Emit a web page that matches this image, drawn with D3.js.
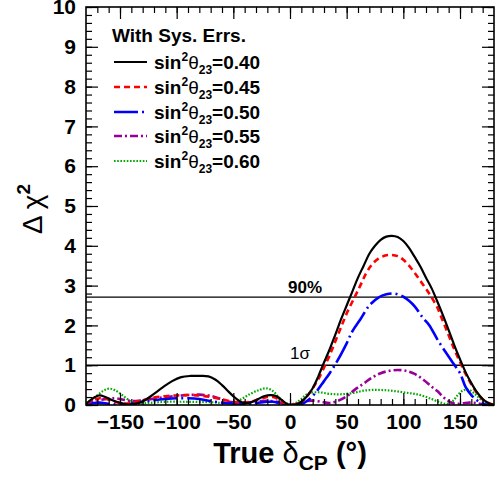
<!DOCTYPE html>
<html>
<head>
<meta charset="utf-8">
<script src="https://cdn.jsdelivr.net/npm/d3@7"></script>
<style>
  html, body { margin: 0; padding: 0; background: #fff; }
  svg { display: block; }
  text { font-family: "Liberation Sans", Arial, Helvetica, sans-serif; }
</style>
</head>
<body>
<svg id="chart" width="496" height="480"></svg>
<script>
// True delta_CP (degrees) and Delta chi^2 for each sin^2(theta_23) hypothesis
const delta040 = [-180,-177,-172,-168,-163,-155,-148,-142,-135,-128,-120,-112,-104,-96,-88,-80,-72,-66,-60,-54,-48,-42,-37,-30,-23,-17,-12,-7,-3,0,5,10,15,20,25,29,35,40,45,50,55,60,65,70,75,80,85,90,95,100,105,110,115,120,125,130,135,140,145,150,155,160,165,170,175,180];
const chi040   = [0.02,0.10,0.20,0.24,0.20,0.10,0.04,0.01,0.04,0.12,0.28,0.45,0.60,0.70,0.73,0.73,0.72,0.64,0.50,0.33,0.17,0.06,0.05,0.12,0.22,0.25,0.22,0.12,0.03,0.00,0.01,0.08,0.22,0.42,0.72,1.00,1.40,1.77,2.15,2.50,2.85,3.20,3.50,3.80,4.00,4.15,4.23,4.25,4.22,4.12,3.95,3.72,3.48,3.20,2.93,2.60,2.25,1.88,1.50,1.15,0.82,0.55,0.32,0.15,0.05,0.00];

const delta045 = [-180,-175,-168,-162,-155,-148,-140,-130,-120,-110,-100,-90,-80,-70,-60,-50,-42,-35,-27,-20,-15,-10,-5,0,5,10,15,20,25,31,35,40,45,50,57,62,67,72,78,85,90,95,100,105,110,115,120,125,130,135,140,145,150,155,160,165,170,175,180];
const chi045   = [0.03,0.10,0.17,0.15,0.08,0.04,0.05,0.12,0.19,0.22,0.24,0.25,0.24,0.20,0.14,0.08,0.06,0.08,0.15,0.20,0.20,0.14,0.05,0.00,0.02,0.08,0.22,0.42,0.65,1.00,1.25,1.60,1.95,2.30,2.71,3.00,3.30,3.52,3.68,3.76,3.77,3.74,3.65,3.50,3.32,3.12,2.92,2.70,2.45,2.10,1.75,1.40,1.08,0.78,0.52,0.30,0.14,0.05,0.01];

const delta050 = [-180,-175,-168,-160,-150,-140,-130,-120,-110,-100,-90,-80,-70,-60,-50,-40,-30,-20,-15,-10,-5,0,10,15,22,30,35,42,50,55,62,70,78,85,92,100,105,110,117,123,130,138,144,150,155,160,165,170,175,180];
const chi050   = [0.00,0.04,0.06,0.03,0.01,0.03,0.08,0.12,0.15,0.17,0.17,0.15,0.10,0.06,0.04,0.03,0.05,0.08,0.08,0.05,0.02,0.00,0.02,0.10,0.29,0.60,0.80,1.12,1.55,1.85,2.15,2.50,2.70,2.78,2.80,2.72,2.62,2.48,2.20,2.00,1.65,1.30,1.05,0.80,0.45,0.25,0.12,0.04,0.00,0.00];

const delta055 = [-180,-175,-165,-155,-148,-140,-130,-120,-110,-100,-90,-80,-70,-60,-55,-45,-35,-25,-17,-10,-5,0,5,10,15,20,28,35,42,50,57,65,73,80,88,95,102,110,118,125,130,136,141,146,152,158,164,170,176,180];
const chi055   = [0.02,0.08,0.14,0.17,0.14,0.10,0.12,0.16,0.20,0.23,0.25,0.26,0.23,0.14,0.09,0.06,0.07,0.10,0.10,0.07,0.03,0.01,0.02,0.06,0.10,0.11,0.08,0.05,0.10,0.22,0.38,0.54,0.70,0.80,0.86,0.88,0.86,0.78,0.63,0.46,0.35,0.18,0.08,0.03,0.04,0.06,0.05,0.02,0.00,0.00];

const delta060 = [-180,-172,-165,-160,-155,-148,-140,-135,-125,-110,-90,-70,-55,-45,-35,-27,-21,-15,-10,-5,0,5,10,16,25,35,45,55,65,75,85,95,105,115,125,132,138,143,148,153,158,163,168,173,180];
const chi060   = [0.05,0.20,0.35,0.41,0.38,0.25,0.08,0.03,0.05,0.08,0.08,0.07,0.05,0.12,0.28,0.38,0.42,0.35,0.20,0.07,0.02,0.05,0.15,0.29,0.32,0.28,0.27,0.30,0.36,0.38,0.37,0.34,0.30,0.25,0.15,0.07,0.03,0.08,0.25,0.37,0.38,0.28,0.15,0.05,0.00];

const seriesLabels = ["0.40", "0.45", "0.50", "0.55", "0.60"];
const xTicks = [-150, -100, -50, 0, 50, 100, 150];
const yTicks = [0, 1, 2, 3, 4, 5, 6, 7, 8, 9, 10];
const refLevels = [2.71, 1];
const refLabels = ["90%", "1σ"];

const series = [
  { x: delta040, y: chi040, color: "#000000", dash: null,        width: 2.2 },
  { x: delta045, y: chi045, color: "#ff0000", dash: "6,4",       width: 2.6 },
  { x: delta050, y: chi050, color: "#0000ff", dash: "24,4,2,4",  width: 2.6 },
  { x: delta055, y: chi055, color: "#990099", dash: "8,3,2,3",   width: 2.6 },
  { x: delta060, y: chi060, color: "#00aa00", dash: "1.6,1.6",   width: 2.2 }
];

const svg = d3.select("#chart");
const pLeft = 86, pRight = 494, pTop = 7, pBottom = 405;

const x = d3.scaleLinear().domain([-180, 180]).range([pLeft, pRight]);
const y = d3.scaleLinear().domain([0, 10]).range([pBottom, pTop]);

svg.append("defs").append("clipPath").attr("id", "plotClip")
  .append("rect").attr("x", pLeft).attr("y", pTop)
  .attr("width", pRight - pLeft).attr("height", pBottom - pTop);

// reference lines
svg.append("g").selectAll("line").data(refLevels).join("line")
  .attr("x1", pLeft).attr("x2", pRight)
  .attr("y1", d => y(d)).attr("y2", d => y(d))
  .attr("stroke", "#000").attr("stroke-width", 1.4);

svg.append("text").attr("x", 288).attr("y", y(refLevels[0]) - 4)
  .attr("font-size", 17).attr("font-weight", "bold").text(refLabels[0]);
svg.append("text").attr("x", 290).attr("y", y(refLevels[1]) - 6)
  .attr("font-size", 17).text(refLabels[1]);

// curves
const line = d3.line().x(d => x(d[0])).y(d => y(d[1])).curve(d3.curveCatmullRom.alpha(0.5));
const curves = svg.append("g").attr("clip-path", "url(#plotClip)");
series.slice().reverse().forEach(s => {
  curves.append("path")
    .datum(d3.zip(s.x, s.y))
    .attr("d", line)
    .attr("fill", "none")
    .attr("stroke", s.color)
    .attr("stroke-width", s.width)
    .attr("stroke-dasharray", s.dash);
});

// axes with inward ticks on all four sides
const xMinor = d3.range(-170, 180, 10);
const yMinor = d3.range(0, 10.001, 0.2);
const axisG = svg.append("g");

axisG.append("g").attr("transform", `translate(0,${pBottom})`)
  .call(d3.axisBottom(x).tickValues(xMinor).tickSize(-6).tickFormat(""));
axisG.append("g").attr("transform", `translate(0,${pBottom})`)
  .call(d3.axisBottom(x).tickValues(xTicks).tickSize(-12).tickPadding(9).tickFormat(d3.format("d")));
axisG.append("g").attr("transform", `translate(0,${pTop})`)
  .call(d3.axisTop(x).tickValues(xMinor).tickSize(-6).tickFormat(""));
axisG.append("g").attr("transform", `translate(0,${pTop})`)
  .call(d3.axisTop(x).tickValues(xTicks).tickSize(-12).tickFormat(""));

axisG.append("g").attr("transform", `translate(${pLeft},0)`)
  .call(d3.axisLeft(y).tickValues(yMinor).tickSize(-6).tickFormat(""));
axisG.append("g").attr("transform", `translate(${pLeft},0)`)
  .call(d3.axisLeft(y).tickValues(yTicks).tickSize(-12).tickPadding(10).tickFormat(d3.format("d")));
axisG.append("g").attr("transform", `translate(${pRight},0)`)
  .call(d3.axisRight(y).tickValues(yMinor).tickSize(-6).tickFormat(""));
axisG.append("g").attr("transform", `translate(${pRight},0)`)
  .call(d3.axisRight(y).tickValues(yTicks).tickSize(-12).tickFormat(""));

axisG.selectAll(".domain").remove();
axisG.selectAll(".tick line").attr("stroke", "#000").attr("stroke-width", 1.2);
axisG.selectAll(".tick text").attr("fill", "#000").attr("font-weight", "bold")
  .attr("font-family", "Liberation Sans, Arial, sans-serif").attr("font-size", 21);

// frame
svg.append("rect").attr("x", pLeft).attr("y", pTop)
  .attr("width", pRight - pLeft).attr("height", pBottom - pTop)
  .attr("fill", "none").attr("stroke", "#000").attr("stroke-width", 1.6);

// axis titles
const xt = svg.append("text").attr("x", 290).attr("y", 463).attr("text-anchor", "middle")
  .attr("font-size", 29).attr("font-weight", "bold");
xt.append("tspan").text("True ");
xt.append("tspan").attr("font-weight", "normal").text("δ");
xt.append("tspan").attr("font-size", 21).attr("dy", 7).text("CP");
xt.append("tspan").attr("dy", -7).text(" (°)");

const yt = svg.append("text").attr("transform", "translate(42,209) rotate(-90)")
  .attr("text-anchor", "middle").attr("font-size", 28);
yt.append("tspan").text("Δ χ");
yt.append("tspan").attr("font-size", 19).attr("font-weight", "bold").attr("dy", -12).text("2");

// legend
const legend = svg.append("g");
legend.append("text").attr("x", 112).attr("y", 42).attr("font-size", 19)
  .attr("font-weight", "bold").text("With Sys. Errs.");
const rowY = [62, 87, 112, 136, 161];
series.forEach((s, i) => {
  const g = legend.append("g").attr("transform", `translate(0,${rowY[i]})`);
  g.append("line").attr("x1", 114).attr("x2", 147).attr("y1", 0).attr("y2", 0)
    .attr("stroke", s.color).attr("stroke-width", s.width).attr("stroke-dasharray", s.dash);
  const t = g.append("text").attr("x", 154).attr("y", 7).attr("font-size", 19).attr("font-weight", "bold");
  t.append("tspan").text("sin");
  t.append("tspan").attr("font-size", 12).attr("dy", -8).text("2");
  t.append("tspan").attr("dy", 8).attr("font-weight", "normal").text("θ");
  t.append("tspan").attr("font-size", 12).attr("dy", 5).text("23");
  t.append("tspan").attr("dy", -5).text("=" + seriesLabels[i]);
});
</script>
</body>
</html>
